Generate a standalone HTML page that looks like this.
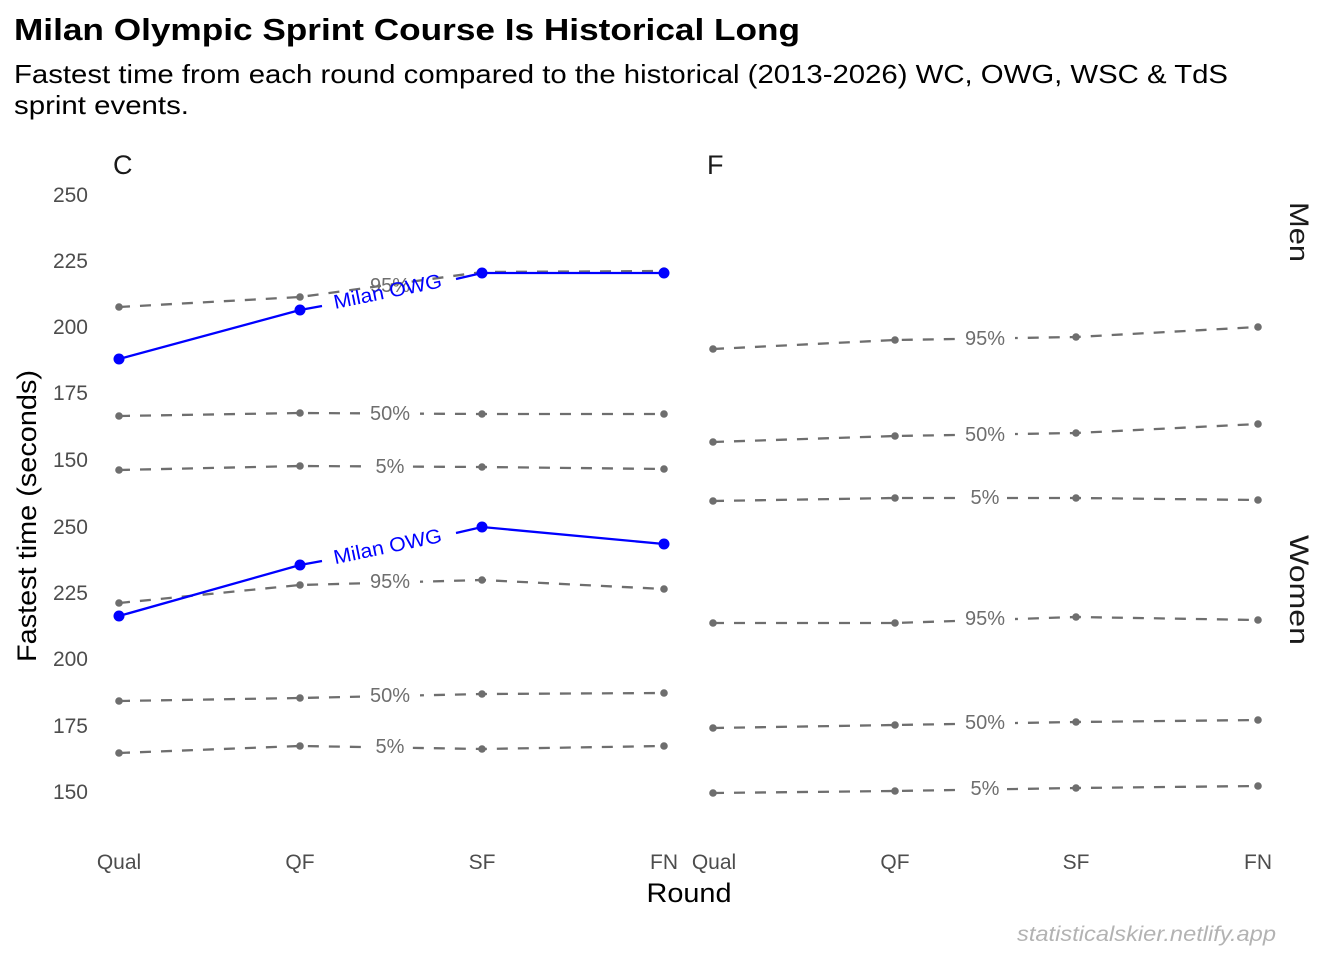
<!DOCTYPE html>
<html><head><meta charset="utf-8"><style>
body{margin:0;background:#fff;}
svg{display:block;font-family:"Liberation Sans",Arial,sans-serif;}
</style></head><body>
<svg width="1344" height="960" viewBox="0 0 1344 960" xmlns="http://www.w3.org/2000/svg">
<rect width="1344" height="960" fill="#fff"/>
<text x="14" y="40" font-size="31" font-weight="bold" fill="#000" textLength="786" lengthAdjust="spacingAndGlyphs">Milan Olympic Sprint Course Is Historical Long</text>
<text x="14" y="83" font-size="26" fill="#000" textLength="1214" lengthAdjust="spacingAndGlyphs">Fastest time from each round compared to the historical (2013-2026) WC, OWG, WSC &amp; TdS</text>
<text x="14" y="114" font-size="26" fill="#000" textLength="175" lengthAdjust="spacingAndGlyphs">sprint events.</text>
<text x="113" y="174" font-size="27" fill="#1a1a1a">C</text>
<text x="707" y="174" font-size="27" fill="#1a1a1a">F</text>
<text transform="translate(1290,232) rotate(90)" font-size="27" fill="#1a1a1a" text-anchor="middle" textLength="60" lengthAdjust="spacingAndGlyphs">Men</text>
<text transform="translate(1290,590) rotate(90)" font-size="27" fill="#1a1a1a" text-anchor="middle" textLength="110" lengthAdjust="spacingAndGlyphs">Women</text>
<g font-size="21" fill="#4d4d4d" text-anchor="end">
<text x="88" y="202">250</text><text x="88" y="268">225</text><text x="88" y="334">200</text><text x="88" y="400">175</text><text x="88" y="467">150</text>
<text x="88" y="534">250</text><text x="88" y="600">225</text><text x="88" y="666">200</text><text x="88" y="733">175</text><text x="88" y="799">150</text>
</g>
<g font-size="21" fill="#4d4d4d" text-anchor="middle">
<text x="119" y="869">Qual</text><text x="300" y="869">QF</text><text x="482" y="869">SF</text><text x="664" y="869">FN</text>
<text x="714" y="869">Qual</text><text x="895" y="869">QF</text><text x="1076" y="869">SF</text><text x="1258" y="869">FN</text>
</g>
<text x="689" y="902" font-size="27" text-anchor="middle" fill="#000" textLength="85" lengthAdjust="spacingAndGlyphs">Round</text>
<text transform="translate(36,516) rotate(-90)" font-size="27" text-anchor="middle" fill="#000" textLength="292" lengthAdjust="spacingAndGlyphs">Fastest time (seconds)</text>
<text x="1276" y="941" font-size="21" font-style="italic" fill="#b3b3b3" text-anchor="end" textLength="259" lengthAdjust="spacingAndGlyphs">statisticalskier.netlify.app</text>

<g stroke="#6e6e6e" stroke-width="2.3" fill="none" stroke-dasharray="11 10">
<polyline points="119,307 300,297 482,272 664,271"/>
<polyline points="119,416 300,413 482,414 664,414"/>
<polyline points="119,470 300,466 482,467 664,469"/>
<polyline points="713,349 895,340 1076,337 1258,327"/>
<polyline points="713,442 895,436 1076,433 1258,424"/>
<polyline points="713,501 895,498 1076,498 1258,500"/>
<polyline points="119,603 300,585 482,580 664,589"/>
<polyline points="119,701 300,698 482,694 664,693"/>
<polyline points="119,753 300,746 482,749 664,746"/>
<polyline points="713,623 895,623 1076,617 1258,620"/>
<polyline points="713,728 895,725 1076,722 1258,720"/>
<polyline points="713,793 895,791 1076,788 1258,786"/>
</g>
<g fill="#6e6e6e">
<circle cx="119" cy="307" r="3.8"/><circle cx="300" cy="297" r="3.8"/><circle cx="482" cy="272" r="3.8"/><circle cx="664" cy="271" r="3.8"/>
<circle cx="119" cy="416" r="3.8"/><circle cx="300" cy="413" r="3.8"/><circle cx="482" cy="414" r="3.8"/><circle cx="664" cy="414" r="3.8"/>
<circle cx="119" cy="470" r="3.8"/><circle cx="300" cy="466" r="3.8"/><circle cx="482" cy="467" r="3.8"/><circle cx="664" cy="469" r="3.8"/>
<circle cx="713" cy="349" r="3.8"/><circle cx="895" cy="340" r="3.8"/><circle cx="1076" cy="337" r="3.8"/><circle cx="1258" cy="327" r="3.8"/>
<circle cx="713" cy="442" r="3.8"/><circle cx="895" cy="436" r="3.8"/><circle cx="1076" cy="433" r="3.8"/><circle cx="1258" cy="424" r="3.8"/>
<circle cx="713" cy="501" r="3.8"/><circle cx="895" cy="498" r="3.8"/><circle cx="1076" cy="498" r="3.8"/><circle cx="1258" cy="500" r="3.8"/>
<circle cx="119" cy="603" r="3.8"/><circle cx="300" cy="585" r="3.8"/><circle cx="482" cy="580" r="3.8"/><circle cx="664" cy="589" r="3.8"/>
<circle cx="119" cy="701" r="3.8"/><circle cx="300" cy="698" r="3.8"/><circle cx="482" cy="694" r="3.8"/><circle cx="664" cy="693" r="3.8"/>
<circle cx="119" cy="753" r="3.8"/><circle cx="300" cy="746" r="3.8"/><circle cx="482" cy="749" r="3.8"/><circle cx="664" cy="746" r="3.8"/>
<circle cx="713" cy="623" r="3.8"/><circle cx="895" cy="623" r="3.8"/><circle cx="1076" cy="617" r="3.8"/><circle cx="1258" cy="620" r="3.8"/>
<circle cx="713" cy="728" r="3.8"/><circle cx="895" cy="725" r="3.8"/><circle cx="1076" cy="722" r="3.8"/><circle cx="1258" cy="720" r="3.8"/>
<circle cx="713" cy="793" r="3.8"/><circle cx="895" cy="791" r="3.8"/><circle cx="1076" cy="788" r="3.8"/><circle cx="1258" cy="786" r="3.8"/>
</g>
<g fill="#fff">
<rect x="360" y="403" width="60" height="22"/><rect x="366" y="456" width="46" height="22"/>
<rect x="955" y="424" width="60" height="22"/><rect x="961" y="487" width="46" height="22"/>
<rect x="955" y="327" width="60" height="22"/>
<rect x="360" y="685" width="60" height="22"/><rect x="366" y="736" width="46" height="22"/>
<rect x="360" y="571" width="60" height="22"/>
<rect x="955" y="608" width="60" height="22"/><rect x="955" y="712" width="60" height="22"/><rect x="961" y="778" width="46" height="22"/>
</g>
<g font-size="20" fill="#6e6e6e" text-anchor="middle">
<text x="390" y="292">95%</text>
<text x="390" y="420">50%</text><text x="390" y="473">5%</text>
<text x="985" y="345">95%</text><text x="985" y="441">50%</text><text x="985" y="504">5%</text>
<text x="390" y="588">95%</text><text x="390" y="702">50%</text><text x="390" y="753">5%</text>
<text x="985" y="625">95%</text><text x="985" y="729">50%</text><text x="985" y="795">5%</text>
</g>
<g stroke="#0000ff" stroke-width="2.3" fill="none">
<polyline points="119,359 300,310 322,306"/>
<polyline points="456,279 482,273 664,273"/>
<polyline points="119,616 300,565 322,561"/>
<polyline points="456,533 482,527 664,544"/>
</g>
<g fill="#0000ff">
<circle cx="119" cy="359" r="5.5"/><circle cx="300" cy="310" r="5.5"/><circle cx="482" cy="273" r="5.5"/><circle cx="664" cy="273" r="5.5"/>
<circle cx="119" cy="616" r="5.5"/><circle cx="300" cy="565" r="5.5"/><circle cx="482" cy="527" r="5.5"/><circle cx="664" cy="544" r="5.5"/>
</g>
<g font-size="20" fill="#0000ff" text-anchor="middle">
<text transform="translate(389,298) rotate(-11.5)" textLength="110" lengthAdjust="spacingAndGlyphs">Milan OWG</text>
<text transform="translate(389,553) rotate(-11.8)" textLength="110" lengthAdjust="spacingAndGlyphs">Milan OWG</text>
</g>
</svg>
</body></html>
